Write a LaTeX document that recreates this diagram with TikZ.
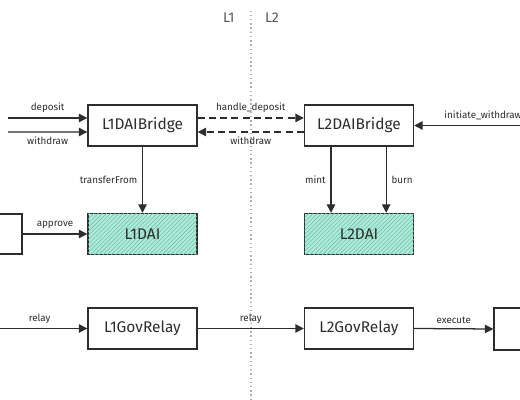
\documentclass[tikz,border=0pt]{standalone}
\usepackage{fontspec}
\setmainfont{Fira Sans}
\usetikzlibrary{arrows.meta,patterns,positioning}
\definecolor{mintfill}{RGB}{176,234,216}
\definecolor{minthatch}{RGB}{110,196,170}
\definecolor{divider}{RGB}{175,175,175}
\definecolor{ink}{RGB}{45,45,45}
\begin{document}
\begin{tikzpicture}[
    box/.style={draw=ink, line width=1pt, minimum width=2.725cm, minimum height=1.025cm, font=\fontsize{11}{13}\selectfont, text=ink},
    token/.style={box, fill=mintfill, postaction={pattern=north east lines, pattern color=minthatch}},
    call/.style={draw=ink, line width=0.9pt, -{Triangle[length=6pt,width=6pt]}},
    msg/.style={call, dash pattern=on 5pt off 3pt},
    lbl/.style={font=\scriptsize, text=ink}
]
\useasboundingbox (0,0) rectangle (13,10);
\clip (0,0) rectangle (13,10);
% L1 | L2 divider
\draw[divider, dotted, line width=1pt] (6.275,0) -- (6.275,9.8);
\node[text=ink!80] (lone) at (5.72,9.55) {L1};
\node[text=ink!80] (ltwo) at (6.8,9.55) {L2};
% bridges and tokens
\node[box] (bridgeA) at (3.5625,6.8625) {L1DAIBridge};
\node[box] (bridgeB) at (8.975,6.8625) {L2DAIBridge};
\node[token] (daiA) at (3.5625,4.15) {L1DAI};
\node[token] (daiB) at (8.975,4.15) {L2DAI};
\node[box, minimum width=1.25cm, minimum height=1cm] (user) at (-0.075,4.15) {};
% governance relays
\node[box] (relayA) at (3.5625,1.7875) {L1GovRelay};
\node[box] (relayB) at (8.975,1.7875) {L2GovRelay};
\node[box, minimum width=1.3cm, minimum height=1.05cm] (target) at (13,1.775) {};
% free ends
\coordinate (depIn) at (0.2,7.05);
\coordinate (wdIn) at (0.2,6.7);
\coordinate (initIn) at (13.8,6.8625);
\coordinate (govIn) at (-0.2,1.7875);
% connectors
\draw[call] (depIn) -- ([yshift=0.1875cm]bridgeA.west) node[lbl, midway, above] {deposit};
\draw[call] (wdIn) -- ([yshift=-0.1625cm]bridgeA.west) node[lbl, midway, below] {withdraw};
\draw[msg] ([yshift=0.1875cm]bridgeA.east) -- ([yshift=0.1875cm]bridgeB.west) node[lbl, midway, above] {handle\_deposit};
\draw[msg] ([yshift=-0.1625cm]bridgeB.west) -- ([yshift=-0.1625cm]bridgeA.east) node[lbl, midway, below] {withdraw};
\draw[call] (initIn) -- (bridgeB.east) node[lbl, midway, above] {initiate\_withdraw};
\draw[call] (bridgeA.south) -- (daiA.north) node[lbl, midway, left] {transferFrom};
\draw[call] ([xshift=-0.7cm]bridgeB.south) -- ([xshift=-0.7cm]daiB.north) node[lbl, midway, left] {mint};
\draw[call] ([xshift=0.68cm]bridgeB.south) -- ([xshift=0.68cm]daiB.north) node[lbl, midway, right] {burn};
\draw[call] (user.east) -- (daiA.west) node[lbl, midway, above] {approve};
\draw[call] (govIn) -- (relayA.west) node[lbl, midway, above] {relay};
\draw[call] (relayA.east) -- (relayB.west) node[lbl, midway, above] {relay};
\draw[call] (relayB.east) -- (target.west) node[lbl, midway, above] {execute};
\end{tikzpicture}
\end{document}
